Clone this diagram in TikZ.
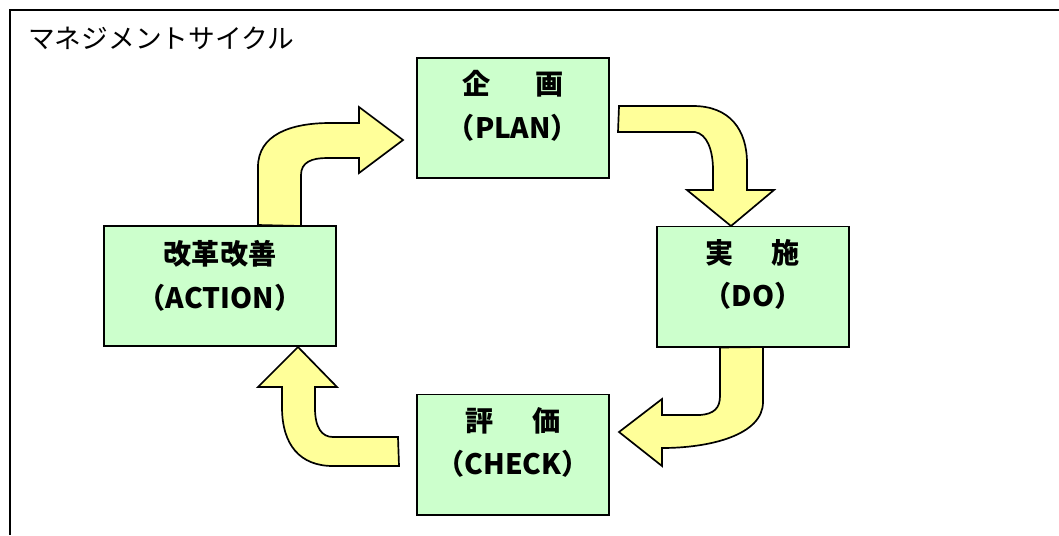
\documentclass[tikz,border=0pt]{standalone}
\usepackage{fontspec}
\newfontfamily\gothic{Noto Sans CJK JP}
\usetikzlibrary{calc}

\definecolor{boxgreen}{RGB}{204,255,204}
\definecolor{arrowyellow}{RGB}{255,255,153}
\tikzset{
  box/.style={draw=black, line width=1.4pt, fill=boxgreen, minimum width=4.8cm, minimum height=3cm, inner sep=0pt},
  boxtext/.style={align=center, font=\gothic\bfseries\fontsize{20}{31}\selectfont, inner sep=0pt},
  bigarrow/.style={draw=black, line width=1.2pt, fill=arrowyellow, line join=miter},
}

\begin{document}
\begin{tikzpicture}[x=0.025cm, y=-0.025cm]
\useasboundingbox (0,0) rectangle (1059,535);
%枠
\draw[line width=1.4pt] (1059,10) -- (10,10) -- (10,535);
\node[anchor=west, inner sep=0pt, font=\gothic\fontsize{19}{19}\selectfont] (title) at (28,38) {マネジメントサイクル};
%箱
\node[box] (plan) at (513,118) {};
\node[box] (do) at (753,286.5) {};
\node[box] (check) at (513,454.5) {};
\node[box, minimum width=5.8cm] (action) at (220,286) {};
\node[boxtext] (plantext) at ($(plan)+(0,-12)$) {企\hspace{1.6em}画\\（PLAN）};
\node[boxtext] (dotext) at ($(do)+(0,-12)$) {実\hspace{1.35em}施\\（DO）};
\node[boxtext] (checktext) at ($(check)+(0,-12)$) {評\hspace{1.4em}価\\（CHECK）};
\node[boxtext] (actiontext) at ($(action)+(0,-10)$) {改革改善\\（ACTION）};
%矢印
\draw[bigarrow] ($(action.north)+(38,0)$) -- (258,167) .. controls (258,135) and (290,123) .. (330,123)
  -- (359,123) -- (359,107) -- (403,140) -- (359,173) -- (359,158) -- (327,158)
  .. controls (312,158) and (301,162) .. (301,175) -- (301,226) -- cycle;
\draw[bigarrow] ($(plan.east)+(9,-12)$) -- (693,106) .. controls (730,106) and (747,130) .. (747,163)
  -- (747,190) -- (774,190) -- (731,226) -- (687,190) -- (713,190) -- (713,170)
  .. controls (713,150) and (707,134) .. (695,132) -- (618,132) -- cycle;
\draw[bigarrow] ($(do.south)+(-33,0)$) -- (763,347) -- (763,402) .. controls (763,435) and (710,448) .. (662,448)
  -- (662,466) -- (619,432) -- (662,399) -- (662,415) -- (700,415)
  .. controls (714,414) and (720,408) .. (720,396) -- (720,347) -- cycle;
\draw[bigarrow] ($(check.west)+(-18,-17.5)$) -- (333,437) .. controls (322,437) and (315,428) .. (315,408)
  -- (315,387) -- (337,387) -- (298,347) -- (258,387) -- (282,387) -- (282,407)
  .. controls (282,445) and (300,466) .. (333,466) -- (399,466) -- cycle;
\end{tikzpicture}
\end{document}
